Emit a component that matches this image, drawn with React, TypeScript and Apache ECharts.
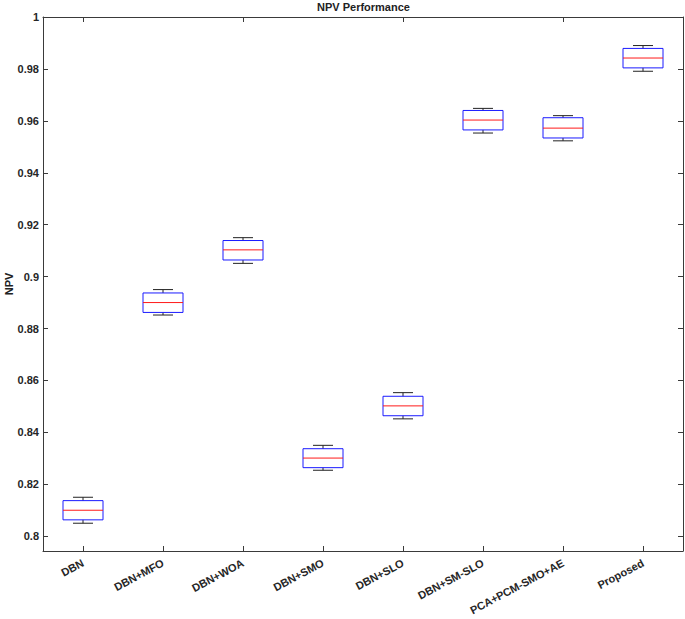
import React, { useEffect, useRef } from "react";
import * as echarts from "echarts";

const categories = [
  "DBN",
  "DBN+MFO",
  "DBN+WOA",
  "DBN+SMO",
  "DBN+SLO",
  "DBN+SM-SLO",
  "PCA+PCM-SMO+AE",
  "Proposed",
];
const whiskerLow = [0.8050, 0.8852, 0.9051, 0.8254, 0.8452, 0.9553, 0.9523, 0.9791];
const boxLow = [0.8063, 0.8862, 0.9064, 0.8264, 0.8464, 0.9565, 0.9534, 0.9804];
const medians = [0.8100, 0.8900, 0.9103, 0.8301, 0.8502, 0.9603, 0.9572, 0.9842];
const boxHigh = [0.8137, 0.8937, 0.9139, 0.8337, 0.8539, 0.9640, 0.9612, 0.9879];
const whiskerHigh = [0.8150, 0.8950, 0.9150, 0.8350, 0.8553, 0.9648, 0.9620, 0.9890];
const yTicks = [0.8, 0.82, 0.84, 0.86, 0.88, 0.9, 0.92, 0.94, 0.96, 0.98, 1];
const yMin = 0.7943;
const yMax = 1;
const yAxisTitle = "NPV";
const chartTitle = "NPV Performance";

const AXIS_COLOR = "#3a3a3a";
const FONT = "'Liberation Sans', Arial, Helvetica, sans-serif";

export default function App() {
  const ref = useRef<HTMLDivElement>(null);
  useEffect(() => {
    if (!ref.current) return;
    const chart = echarts.init(ref.current, null, { renderer: "svg" });
    const data = categories.map((_, i) => [
      i,
      whiskerLow[i],
      boxLow[i],
      medians[i],
      boxHigh[i],
      whiskerHigh[i],
    ]);
    const axisLine = { show: true, lineStyle: { color: AXIS_COLOR, width: 1 } };
    chart.setOption({
      animation: false,
      backgroundColor: "#ffffff",
      title: {
        text: chartTitle,
        left: 317,
        top: 1,
        padding: 0,
        textStyle: { fontFamily: FONT, fontSize: 11, fontWeight: "bold", color: "#222" },
      },
      graphic: [
        {
          type: "text",
          x: 9,
          y: 284,
          rotation: Math.PI / 2,
          style: {
            text: yAxisTitle,
            textAlign: "center",
            textVerticalAlign: "middle",
            fontFamily: FONT,
            fontSize: 11,
            fontWeight: "bold",
            fill: "#222",
          },
        },
      ],
      grid: {
        left: 43,
        right: 2,
        top: 17,
        bottom: 68,
        containLabel: false,
        outerBoundsMode: "none",
      },
      xAxis: [
        {
          type: "category",
          data: categories,
          boundaryGap: true,
          position: "bottom",
          axisLine,
          axisTick: { show: true, inside: true, alignWithLabel: true, length: 5, lineStyle: { color: AXIS_COLOR } },
          axisLabel: {
            rotate: 28,
            margin: 11,
            interval: 0,
            fontFamily: FONT,
            fontSize: 11,
            fontWeight: "bold",
            color: "#262626",
          },
          splitLine: { show: false },
        },
        {
          type: "category",
          data: categories,
          boundaryGap: true,
          position: "top",
          axisLine,
          axisTick: { show: true, inside: true, alignWithLabel: true, length: 5, lineStyle: { color: AXIS_COLOR } },
          axisLabel: { show: false },
          splitLine: { show: false },
        },
      ],
      yAxis: [
        {
          type: "value",
          min: yMin,
          max: yMax,
          position: "left",
          axisLine,
          axisTick: { show: true, inside: true, length: 5, customValues: yTicks, lineStyle: { color: AXIS_COLOR } },
          axisLabel: {
            customValues: yTicks,
            formatter: (v: number) => String(parseFloat(Number(v).toFixed(2))),
            margin: 4,
            fontFamily: FONT,
            fontSize: 11,
            fontWeight: "bold",
            color: "#262626",
          },
          splitLine: { show: false },
        },
        {
          type: "value",
          min: yMin,
          max: yMax,
          position: "right",
          axisLine,
          axisTick: { show: true, inside: true, length: 5, customValues: yTicks, lineStyle: { color: AXIS_COLOR } },
          axisLabel: { show: false },
          splitLine: { show: false },
        },
      ],
      series: [
        {
          type: "custom",
          xAxisIndex: 0,
          yAxisIndex: 0,
          data,
          encode: { x: 0, y: [1, 2, 3, 4, 5] },
          renderItem: (params: any, api: any) => {
            const xi = api.value(0);
            const pLow = api.coord([xi, api.value(1)]);
            const pQ1 = api.coord([xi, api.value(2)]);
            const pMed = api.coord([xi, api.value(3)]);
            const pQ3 = api.coord([xi, api.value(4)]);
            const pHigh = api.coord([xi, api.value(5)]);
            const band = api.size([1, 0])[0];
            const hw = band * 0.25;
            const cw = band * 0.125;
            const cx = pMed[0];
            const wStyle = { stroke: "#222", lineWidth: 1, fill: "none" };
            return {
              type: "group",
              children: [
                { type: "line", shape: { x1: cx, y1: pHigh[1], x2: cx, y2: pQ3[1] }, style: wStyle },
                { type: "line", shape: { x1: cx, y1: pQ1[1], x2: cx, y2: pLow[1] }, style: wStyle },
                { type: "line", shape: { x1: cx - cw, y1: pHigh[1], x2: cx + cw, y2: pHigh[1] }, style: wStyle },
                { type: "line", shape: { x1: cx - cw, y1: pLow[1], x2: cx + cw, y2: pLow[1] }, style: wStyle },
                {
                  type: "rect",
                  shape: { x: cx - hw, y: pQ3[1], width: 2 * hw, height: pQ1[1] - pQ3[1] },
                  style: { fill: "none", stroke: "#1a1aff", lineWidth: 1 },
                },
                {
                  type: "line",
                  shape: { x1: cx - hw, y1: pMed[1], x2: cx + hw, y2: pMed[1] },
                  style: { stroke: "#ff1a1a", lineWidth: 1 },
                },
              ],
            };
          },
        },
      ],
    });
    return () => chart.dispose();
  }, []);
  return (
    <div
      ref={ref}
      style={{ position: "fixed", left: 0, top: 0, width: 685, height: 619 }}
    />
  );
}
